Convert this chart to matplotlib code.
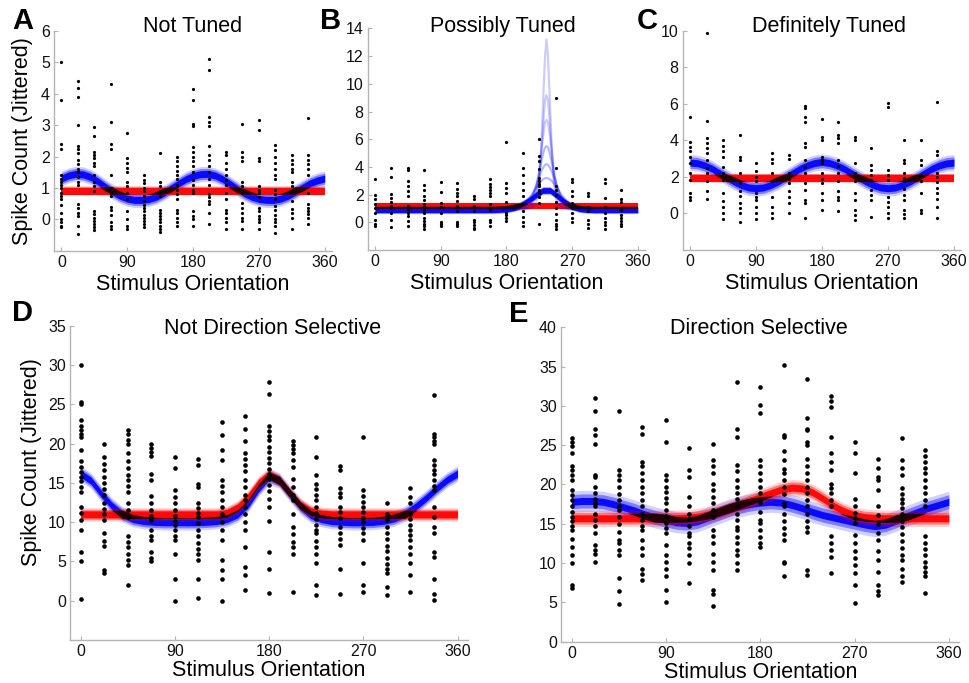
import numpy as np
import matplotlib
matplotlib.use("Agg")
import matplotlib.pyplot as plt

plt.rcParams["font.family"] = ["Liberation Sans", "DejaVu Sans"]

# stimulus directions and the grid the fitted curves are sampled on
orientations = np.arange(0, 360, 22.5)
theta = np.arange(0, 361, 10)

# ---- A: not tuned ----
a_counts = [
    [5.0, 3.8, 2.4, 2.25, 1.4, 1.3, 1.2, 1.1, 1.0, 0.85, 0.75, 0.65, 0.45, 0.2, 0.0, -0.1, -0.2, -0.25],
    [4.4, 4.2, 3.9, 3.0, 2.35, 2.25, 2.1, 1.9, 1.75, 1.6, 1.5, 1.35, 1.2, 1.1, 0.48, 0.35, 0.2, 0.1, -0.2, -0.48],
    [2.95, 2.65, 2.15, 2.05, 1.95, 1.8, 1.7, 1.4, 1.2, 1.05, 0.9, 0.28, 0.16, 0.05, -0.05, -0.15, -0.25, -0.35],
    [4.3, 3.1, 2.4, 2.25, 1.4, 1.0, 0.85, 0.75, 0.4, 0.3, 0.15, -0.1, -0.2, -0.3],
    [2.75, 1.95, 1.8, 1.65, 1.5, 1.2, 1.05, 0.85, 0.65, 0.28, 0.0, -0.2, -0.3],
    [1.4, 1.25, 1.15, 1.0, 0.9, 0.75, 0.6, 0.45, 0.35, 0.25, 0.15, 0.05, -0.05, -0.15, -0.25],
    [2.1, 1.2, 1.05, 0.9, 0.75, 0.3, 0.2, 0.1, 0.0, -0.1, -0.2, -0.3, -0.4],
    [2.0, 1.85, 1.7, 1.55, 1.4, 1.3, 1.1, 0.95, 0.8, 0.65, 0.3, 0.2, 0.05, -0.1, -0.2],
    [4.15, 3.8, 3.05, 2.98, 2.3, 2.15, 2.0, 1.85, 1.7, 1.5, 1.25, 1.1, 0.95, 0.85, 0.28, 0.1, 0.0, -0.2],
    [5.1, 4.75, 3.25, 3.1, 2.98, 2.33, 2.05, 1.9, 1.7, 1.5, 1.3, 1.1, 0.8, 0.7, 0.58, 0.48, 0.2, -0.15],
    [2.15, 2.05, 1.8, 1.6, 1.4, 1.25, 1.1, 0.85, 0.65, 0.3, 0.2, 0.05, -0.1, -0.3],
    [3.05, 2.15, 2.0, 1.85, 1.2, 1.05, 0.85, 0.53, 0.37, 0.2, 0.05, -0.05, -0.3],
    [3.15, 2.85, 1.95, 1.85, 1.05, 0.95, 0.85, 0.7, 0.37, 0.25, 0.1, 0.0, -0.1, -0.3],
    [2.38, 2.2, 2.0, 1.8, 1.6, 1.4, 1.3, 0.95, 0.8, 0.65, 0.42, 0.3, 0.15, 0.0, -0.1, -0.2, -0.42],
    [2.05, 1.9, 1.75, 1.6, 1.5, 1.2, 1.05, 0.9, 0.58, 0.32, 0.2, 0.05, -0.32],
    [3.23, 2.05, 1.9, 1.75, 1.6, 1.4, 0.85, 0.48, 0.37, 0.26, 0.16, 0.05, -0.15],
]
a_blue = [1.30, 1.40, 1.45, 1.43, 1.35, 1.21, 1.04, 0.88, 0.75, 0.66, 0.62, 0.62, 0.65,
          0.72, 0.84, 0.99, 1.14, 1.28, 1.38, 1.44, 1.45, 1.40, 1.29, 1.14, 0.98, 0.83,
          0.72, 0.65, 0.62, 0.62, 0.66, 0.75, 0.88, 1.02, 1.15, 1.24, 1.30]
a_red = 0.9

# ---- B: possibly tuned ----
b_counts = [
    [3.1, 2.0, 1.7, 1.3, 1.0, 0.7, 0.2, -0.1, -0.3],
    [3.9, 3.3, 2.05, 1.75, 1.5, 1.2, 1.0, 0.67, 0.2, -0.35],
    [3.9, 3.75, 2.95, 2.6, 2.25, 1.9, 1.2, 0.9, 0.67, 0.48, 0.07, -0.3],
    [3.75, 2.7, 2.3, 1.9, 1.6, 1.3, 1.1, 0.9, 0.7, 0.3, 0.1, -0.1, -0.3, -0.5],
    [2.9, 2.2, 1.4, 1.1, 0.7, 0.05, -0.15, -0.3],
    [2.85, 2.4, 2.15, 1.9, 1.55, 1.15, 0.8, 0.05, -0.15, -0.3],
    [1.9, 1.7, 1.15, 0.8, 0.2, 0.0, -0.2, -0.4, -0.5],
    [3.1, 2.8, 2.55, 2.3, 2.1, 1.9, 1.3, 0.9, 0.2, 0.0, -0.25],
    [5.8, 2.85, 2.5, 2.1, 1.5, 1.1, 0.7, 0.55, 0.3, 0.07],
    [5.0, 3.9, 3.45, 2.85, 2.35, 1.9, 1.3, 0.8, 0.4, 0.0, -0.3],
    [6.0, 4.8, 4.4, 3.85, 3.2, 3.0, 2.8, 2.6, 2.35, 2.1, 1.8, 1.4, -0.1],
    [9.0, 3.9, 2.6, 2.3, 2.0, 1.5, 1.0, 0.6, 0.2, -0.1, -0.3, -0.5],
    [3.1, 2.9, 2.25, 1.9, 1.4, 1.0, 0.7, 0.3, 0.0],
    [2.15, 1.9, 1.1, 0.8, 0.2, -0.1, -0.4],
    [3.1, 2.85, 1.75, 1.1, 0.7, 0.3, 0.0, -0.2, -0.5],
    [2.35, 1.7, 1.5, 0.9, 0.5, 0.3, 0.1, -0.1, -0.3],
]
b_blue = [0.90, 0.90, 0.90, 0.90, 0.90, 0.90, 0.90, 0.90, 0.90, 0.90, 0.90, 0.90, 0.90,
          0.90, 0.90, 0.90, 0.90, 0.92, 0.95, 1.05, 1.25, 1.55, 1.95, 2.30, 2.30, 1.90,
          1.45, 1.15, 0.98, 0.92, 0.90, 0.90, 0.90, 0.90, 0.90, 0.90, 0.90]
b_red = 1.16
# individual posterior samples with sharp peaks
b_peak_theta = [175, 190, 205, 215, 221, 225, 228, 231, 233, 235, 237, 239, 242, 245, 249, 255, 265, 280, 295]
b_peak_samples = [
    [0.9, 0.9, 0.95, 1.0, 1.4, 2.8, 5.6, 9.6, 12.0, 13.2, 12.0, 9.6, 5.6, 2.8, 1.4, 1.0, 0.95, 0.9, 0.9],
    [0.9, 0.9, 0.95, 1.2, 1.9, 3.3, 5.3, 7.6, 8.8, 9.2, 8.8, 7.6, 5.3, 3.3, 1.9, 1.2, 0.95, 0.9, 0.9],
    [0.9, 0.9, 1.0, 1.4, 2.4, 3.8, 5.2, 6.5, 7.2, 7.4, 7.2, 6.5, 5.2, 3.8, 2.4, 1.4, 1.0, 0.9, 0.9],
    [0.9, 0.95, 1.1, 1.7, 2.6, 3.6, 4.4, 5.1, 5.4, 5.5, 5.4, 5.1, 4.4, 3.6, 2.6, 1.7, 1.1, 0.95, 0.9],
    [0.9, 1.0, 1.2, 1.9, 2.7, 3.3, 3.7, 4.0, 4.15, 4.2, 4.15, 4.0, 3.7, 3.3, 2.7, 1.9, 1.2, 1.0, 0.9],
    [0.9, 1.05, 1.4, 2.0, 2.5, 2.8, 3.0, 3.12, 3.18, 3.2, 3.18, 3.12, 3.0, 2.8, 2.5, 2.0, 1.4, 1.05, 0.9],
]

# ---- C: definitely tuned ----
c_counts = [
    [5.25, 3.9, 3.65, 3.4, 3.1, 2.75, 2.2, 1.85, 1.1, 0.9, 0.75],
    [9.85, 5.05, 4.1, 3.85, 3.6, 3.3, 2.9, 2.5, 2.2, 1.75, 1.2, 0.8],
    [4.0, 3.7, 3.4, 3.1, 2.55, 2.2, 1.85, 1.1, 0.7, 0.35, 0.0, -0.3],
    [4.3, 3.1, 2.9, 2.2, 1.65, 1.2, 0.95, 0.55, 0.3, 0.0, -0.45],
    [2.75, 2.3, 2.0, 1.75, 1.1, 0.9, 0.73, 0.36, 0.0, -0.3],
    [3.3, 3.0, 2.75, 2.2, 1.75, 0.9, 0.36, 0.0, -0.25],
    [3.2, 3.0, 2.2, 1.9, 1.65, 1.2, 0.9, 0.55, 0.0],
    [5.9, 5.75, 5.3, 5.0, 3.85, 3.65, 2.9, 2.55, 2.2, 1.65, 1.3, 0.73, 0.55, -0.27],
    [5.15, 4.2, 4.0, 3.1, 2.9, 2.75, 2.2, 1.9, 1.65, 1.1, 0.73, 0.18],
    [5.0, 4.3, 4.1, 3.85, 2.9, 2.6, 2.2, 1.75, 1.2, 0.9, 0.73, 0.15],
    [4.2, 4.0, 2.75, 2.2, 1.75, 1.1, 0.73, 0.18, -0.1, -0.35],
    [3.6, 2.65, 2.35, 2.1, 1.85, 1.3, 1.0, 0.73, -0.18],
    [6.05, 5.85, 2.35, 2.1, 1.85, 0.9, 0.65, 0.36, 0.0, -0.27],
    [4.0, 2.9, 2.75, 2.2, 1.95, 1.75, 1.35, 1.0, 0.73, 0.18, -0.05, -0.27],
    [4.0, 2.9, 2.65, 2.1, 1.75, 1.1, 0.18, 0.0],
    [6.1, 3.4, 3.2, 2.2, 2.0, 1.7, 1.4, 1.1, 0.8, 0.36, -0.27],
]
c_blue = [2.78, 2.75, 2.63, 2.45, 2.21, 1.97, 1.74, 1.55, 1.42, 1.38, 1.42, 1.55, 1.74,
          1.97, 2.21, 2.45, 2.63, 2.76, 2.82, 2.76, 2.63, 2.45, 2.21, 1.97, 1.74, 1.55,
          1.42, 1.38, 1.42, 1.55, 1.74, 1.97, 2.21, 2.45, 2.63, 2.74, 2.78]
c_red = 1.92

# ---- D: not direction selective ----
d_counts = [
    [30.0, 25.3, 25.0, 23.0, 22.3, 21.8, 21.3, 20.8, 19.2, 17.8, 17.0, 16.4, 15.8, 15.2, 14.5, 13.8, 12.0, 11.2, 10.3, 9.0, 6.2, 5.1, 0.2],
    [20.0, 18.3, 17.4, 16.6, 15.8, 15.0, 14.2, 13.5, 12.4, 11.7, 11.0, 10.3, 8.6, 7.6, 7.0, 3.9, 3.5],
    [21.7, 21.3, 20.5, 20.0, 18.8, 17.8, 16.9, 16.0, 15.4, 14.6, 13.8, 12.4, 11.5, 10.7, 8.2, 7.5, 6.8, 6.0, 5.2, 4.5, 2.0],
    [20.0, 19.5, 19.0, 18.5, 16.2, 15.4, 13.3, 12.4, 11.5, 10.8, 10.3, 9.0, 8.3, 7.7, 6.2, 5.5, 5.0],
    [18.3, 16.9, 14.1, 13.2, 12.4, 11.5, 10.8, 10.2, 9.6, 9.0, 8.3, 7.7, 6.0, 2.8, 0.0],
    [18.1, 17.3, 14.9, 14.5, 12.4, 11.8, 11.2, 10.7, 9.9, 9.0, 8.2, 7.4, 6.6, 5.9, 5.2, 2.8, 0.3],
    [22.8, 21.1, 19.2, 17.9, 15.4, 14.6, 13.8, 12.8, 12.0, 11.0, 10.0, 9.0, 7.7, 5.2, 3.9, 2.8, 0.0],
    [23.5, 21.9, 20.3, 18.8, 18.0, 17.3, 16.5, 15.4, 14.5, 13.5, 12.8, 12.0, 11.0, 10.0, 9.0, 6.9, 4.3, 3.3, 1.4],
    [27.9, 26.3, 22.2, 21.6, 21.0, 20.5, 19.6, 18.9, 18.2, 17.5, 16.8, 16.2, 15.5, 14.8, 14.0, 13.0, 12.0, 10.1, 6.2, 4.1, 1.0],
    [20.3, 19.8, 19.3, 18.8, 17.9, 17.0, 15.5, 14.5, 13.5, 12.8, 11.1, 9.4, 8.5, 7.5, 6.9, 6.0, 1.1],
    [20.8, 18.3, 16.0, 14.9, 14.2, 13.5, 12.8, 12.0, 11.2, 10.4, 9.6, 9.0, 8.6, 7.6, 6.9, 6.0, 4.8, 2.0, 0.7],
    [17.1, 16.6, 14.3, 13.7, 13.2, 12.0, 11.3, 10.5, 9.4, 8.6, 7.8, 7.1, 4.1, 0.85],
    [20.9, 14.1, 13.4, 12.6, 12.0, 11.3, 10.6, 10.0, 9.3, 8.6, 7.7, 4.8, 2.0, 1.1],
    [12.4, 11.1, 10.3, 9.4, 8.6, 7.8, 7.0, 6.3, 5.5, 4.7, 4.0, 3.5, 1.8, 0.7],
    [14.3, 13.2, 12.4, 11.1, 10.4, 9.7, 9.0, 8.4, 7.7, 6.9, 6.0, 4.8, 3.3, 1.1],
    [26.2, 21.3, 20.8, 20.3, 20.0, 17.9, 17.3, 16.6, 16.2, 15.4, 14.6, 14.1, 12.0, 10.7, 9.4, 8.6, 6.2, 5.6, 2.8, 0.9, 0.1],
]
d_blue = [16.2, 15.3, 13.6, 12.1, 11.0, 10.4, 10.15, 10.05, 10.0, 10.0, 10.0, 10.0, 10.05,
          10.15, 10.4, 11.0, 12.3, 14.3, 15.8, 15.3, 13.6, 12.0, 10.9, 10.4, 10.15, 10.05,
          10.0, 10.0, 10.05, 10.2, 10.5, 11.1, 12.0, 13.1, 14.3, 15.4, 16.2]
d_red = [11.0, 11.0, 11.0, 11.0, 11.0, 11.0, 11.0, 11.0, 11.0, 11.0, 11.0, 11.0, 11.0,
         11.0, 11.2, 11.9, 13.2, 15.0, 16.1, 15.3, 13.7, 12.2, 11.4, 11.1, 11.0, 11.0,
         11.0, 11.0, 11.0, 11.0, 11.0, 11.0, 11.0, 11.0, 11.0, 11.0, 11.0]

# ---- E: direction selective ----
e_counts = [
    [25.9, 25.4, 24.9, 24.0, 22.3, 21.8, 21.2, 20.6, 19.3, 18.6, 18.0, 17.2, 16.5, 15.9, 15.3, 14.7, 14.2, 13.1, 12.1, 11.0, 10.0, 7.2, 6.8],
    [31.0, 29.3, 27.1, 26.3, 25.1, 21.2, 20.9, 19.7, 18.9, 18.2, 17.6, 17.2, 16.3, 15.5, 14.7, 13.8, 12.3, 11.7, 11.2, 10.2],
    [29.3, 21.8, 21.2, 20.6, 19.7, 18.8, 18.0, 17.2, 16.8, 15.9, 15.0, 14.0, 12.9, 12.5, 11.7, 11.0, 8.1, 6.4, 4.8],
    [27.3, 26.4, 22.9, 22.3, 21.4, 20.6, 19.7, 18.9, 18.0, 17.2, 16.3, 15.5, 14.7, 14.2, 12.9, 11.9, 11.0, 9.3, 8.6, 7.8],
    [28.2, 25.4, 21.2, 20.6, 19.7, 19.0, 18.3, 17.6, 16.8, 16.0, 15.1, 14.4, 13.8, 12.3, 11.0, 10.2, 9.2, 8.3, 6.6, 5.1],
    [24.7, 21.9, 21.0, 18.4, 17.2, 16.3, 15.6, 14.7, 13.8, 13.4, 12.6, 11.9, 11.0, 10.0, 7.5],
    [25.2, 23.1, 22.3, 21.4, 20.1, 19.3, 18.4, 17.6, 16.8, 15.9, 14.2, 13.4, 12.5, 11.2, 10.2, 9.1, 6.6, 6.1, 4.5],
    [33.1, 27.1, 26.1, 22.5, 21.7, 20.6, 19.7, 18.9, 18.1, 17.2, 16.3, 15.5, 14.6, 14.2, 13.3, 12.5, 11.7, 11.0, 10.0, 9.1],
    [32.4, 30.1, 29.1, 23.1, 22.3, 21.4, 20.6, 19.7, 18.9, 18.0, 17.6, 16.5, 15.5, 15.1, 14.2, 13.3, 12.5, 12.1],
    [35.2, 26.3, 26.0, 24.2, 23.1, 22.0, 21.4, 20.6, 19.7, 18.8, 17.6, 17.2, 16.3, 15.4, 14.5, 13.7, 12.9, 10.2, 10.0, 8.3],
    [33.4, 28.4, 27.1, 26.9, 25.4, 25.0, 23.3, 22.3, 21.4, 20.6, 19.7, 18.9, 18.0, 17.2, 16.3, 15.4, 14.6, 14.0, 9.1, 8.5],
    [31.2, 30.6, 29.9, 26.1, 24.0, 22.9, 21.8, 20.1, 19.5, 18.9, 18.0, 17.2, 13.4, 12.5, 11.7, 10.8, 8.7],
    [25.4, 24.0, 21.4, 18.2, 17.2, 16.4, 15.7, 15.1, 13.6, 12.6, 11.6, 10.6, 9.7, 8.7, 7.2, 4.9],
    [23.2, 22.1, 21.0, 20.6, 19.3, 17.2, 16.1, 15.0, 13.8, 12.9, 11.6, 10.4, 8.9, 7.2, 6.5, 5.9],
    [25.9, 23.1, 22.1, 21.2, 19.5, 18.8, 18.2, 17.6, 17.0, 16.2, 15.4, 14.6, 13.7, 12.8, 11.9, 11.0, 10.4, 9.3, 8.4, 7.6],
    [24.4, 23.6, 22.8, 22.1, 21.4, 20.6, 19.7, 18.9, 18.0, 17.2, 13.4, 12.6, 11.8, 11.0, 10.2, 9.5, 8.9, 8.3, 6.2],
]
e_blue = [17.8, 17.9, 17.9, 17.8, 17.5, 17.1, 16.7, 16.2, 15.8, 15.5, 15.2, 15.1, 15.3,
          15.8, 16.3, 16.8, 17.2, 17.5, 17.7, 17.8, 17.7, 17.4, 17.0, 16.5, 16.1, 15.8,
          15.5, 15.2, 14.9, 14.7, 14.9, 15.4, 16.0, 16.5, 17.0, 17.4, 17.8]
e_red = [15.7, 15.7, 15.7, 15.7, 15.7, 15.7, 15.7, 15.7, 15.7, 15.7, 15.7, 15.75, 15.9,
         16.15, 16.5, 16.9, 17.4, 17.9, 18.4, 18.9, 19.35, 19.6, 19.5, 19.0, 18.2, 17.3,
         16.6, 16.1, 15.85, 15.75, 15.7, 15.7, 15.7, 15.7, 15.7, 15.7, 15.7]

GREY = "#b4b4b4"


def style_axes(ax, ylim, yticks):
    ax.set_xlim(-10, 370)
    ax.set_ylim(*ylim)
    ax.set_xticks([0, 90, 180, 270, 360])
    ax.set_yticks(yticks)
    for s in ("top", "right"):
        ax.spines[s].set_visible(False)
    for s in ("left", "bottom"):
        ax.spines[s].set_color(GREY)
        ax.spines[s].set_linewidth(1.0)
    ax.tick_params(direction="in", length=3, color=GREY, labelsize=11.5,
                   labelcolor="#111111", pad=3)


def band(ax, x, y, spread, core, color):
    # outer halo, inner halo and dense core of the posterior samples
    ax.fill_between(x, y - core - spread, y + core + spread, color=color, alpha=0.18, lw=0, zorder=2)
    ax.fill_between(x, y - core - 0.5 * spread, y + core + 0.5 * spread, color=color, alpha=0.4, lw=0, zorder=2)
    ax.fill_between(x, y - core, y + core, color=color, alpha=0.92, lw=0, zorder=2)


def draw_fits(ax, blue, blue_spread, red, red_spread, core_px=3.5):
    y0, y1 = ax.get_ylim()
    px_per_unit = ax.get_window_extent().height / (y1 - y0)
    core = core_px / px_per_unit
    blue = np.asarray(blue, float)
    red = np.asarray(red, float) * np.ones_like(theta, dtype=float)
    band(ax, theta, blue, blue_spread, core, "blue")
    band(ax, theta, red, red_spread, core, "red")
    # where the two model bands overlap the colours cancel to black
    lo = np.maximum(red - core - 0.25 * red_spread, blue - core - 0.25 * blue_spread)
    hi = np.minimum(red + core + 0.25 * red_spread, blue + core + 0.25 * blue_spread)
    ax.fill_between(theta, lo, hi, where=hi > lo, interpolate=True, color="black",
                    alpha=0.85, lw=0, zorder=3)


def draw_counts(ax, counts, ms):
    for ori, vals in zip(orientations, counts):
        ax.plot(np.full(len(vals), ori), vals, "o", color="black", ms=ms, mew=0, zorder=5)


fig = plt.figure(figsize=(9.7, 6.83), dpi=100)

ax_a = fig.add_axes([0.0557, 0.6329, 0.2866, 0.3217])
ax_b = fig.add_axes([0.3791, 0.6340, 0.2859, 0.3243])
ax_c = fig.add_axes([0.7038, 0.6340, 0.2872, 0.3211])
ax_d = fig.add_axes([0.0722, 0.0630, 0.4103, 0.4597])
ax_e = fig.add_axes([0.5784, 0.0605, 0.4106, 0.4603])

style_axes(ax_a, (-1, 6), range(0, 7))
style_axes(ax_b, (-2, 14), range(0, 15, 2))
style_axes(ax_c, (-2, 10), range(0, 11, 2))
style_axes(ax_d, (-5, 35), range(0, 36, 5))
style_axes(ax_e, (0, 40), range(0, 41, 5))

draw_fits(ax_a, a_blue, 0.13, a_red, 0.04)
draw_fits(ax_b, b_blue, 0.08, b_red, 0.06, core_px=2.8)
for k, sample in enumerate(b_peak_samples):
    ax_b.plot(b_peak_theta, sample, color="blue", lw=1.6, alpha=0.2 if k < 3 else 0.28, zorder=2)
draw_fits(ax_c, c_blue, 0.25, c_red, 0.07)
draw_fits(ax_d, d_blue, 0.55, d_red, 0.4)
draw_fits(ax_e, e_blue, 0.9, e_red, 0.6)

draw_counts(ax_a, a_counts, 2.3)
draw_counts(ax_b, b_counts, 2.3)
draw_counts(ax_c, c_counts, 2.3)
draw_counts(ax_d, d_counts, 3.3)
draw_counts(ax_e, e_counts, 3.3)

titles = [(ax_a, "Not Tuned", 0.498, 1.02), (ax_b, "Possibly Tuned", 0.488, 1.01),
          (ax_c, "Definitely Tuned", 0.525, 1.019), (ax_d, "Not Direction Selective", 0.508, 0.992),
          (ax_e, "Direction Selective", 0.496, 0.996)]
for ax, text, tx, ty in titles:
    ax.text(tx, ty, text, transform=ax.transAxes, ha="center", va="center", fontsize=15.5)

for ax in (ax_a, ax_b, ax_c):
    ax.set_xlabel("Stimulus Orientation", fontsize=15.5)
    ax.xaxis.set_label_coords(0.5, -0.105)
    ax.xaxis.label.set_va("top")
for ax in (ax_d, ax_e):
    ax.set_xlabel("Stimulus Orientation", fontsize=15.5)
    ax.xaxis.set_label_coords(0.5, -0.064)
    ax.xaxis.label.set_va("top")

ax_a.set_ylabel("Spike Count (Jittered)", fontsize=15.5)
ax_a.yaxis.label.set_va("center")
ax_a.yaxis.set_label_coords(-0.115, 0.5)
ax_d.set_ylabel("Spike Count (Jittered)", fontsize=15.5)
ax_d.yaxis.label.set_va("center")
ax_d.yaxis.set_label_coords(-0.098, 0.567)

for letter, fx, fy in [("A", 0.0237, 0.9693), ("B", 0.3412, 0.9693), ("C", 0.667, 0.9693),
                       ("D", 0.0237, 0.5417), ("E", 0.535, 0.5403)]:
    fig.text(fx, fy, letter, fontsize=21, fontweight="bold", ha="center", va="center")

fig.savefig("out.png", dpi=100)
